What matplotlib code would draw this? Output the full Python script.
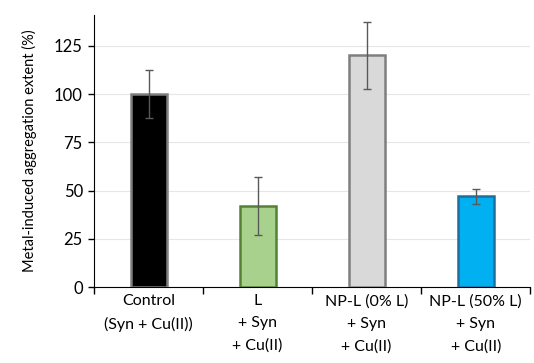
import matplotlib.pyplot as plt
import numpy as np

plt.rcParams['font.family'] = ['Lato', 'DejaVu Sans']

labels = ['Control\n(Syn + Cu(II))', 'L\n+ Syn\n+ Cu(II)',
          'NP-L (0% L)\n+ Syn\n+ Cu(II)', 'NP-L (50% L)\n+ Syn\n+ Cu(II)']
values = [100, 42, 120, 47]
errors = [12.5, 15, 17.5, 4]
faces = ['#000000', '#A9D18E', '#D9D9D9', '#00B0F0']
edges = ['#7F7F7F', '#548235', '#7F7F7F', '#1F6E9E']

fig = plt.figure(figsize=(5.34, 3.63), dpi=100)
ax = fig.add_axes([0.176, 0.209, 0.817, 0.75])

x = np.arange(len(values))
ax.bar(x, values, width=0.33, color=faces, edgecolor=edges, linewidth=1.8, zorder=3)
ax.errorbar(x, values, yerr=errors, fmt='none', ecolor='#595959',
            elinewidth=1, capsize=3, capthick=1, zorder=4)

ax.set_xlim(-0.5, len(values) - 0.5)
ax.set_ylim(0, 141)
ax.set_yticks([0, 25, 50, 75, 100, 125])
ax.yaxis.grid(True, color='#E6E6E6', linewidth=0.8, zorder=0)

ax.set_xticks(x)
ax.set_xticklabels(labels, fontsize=11.5, linespacing=1.75)
ax.tick_params(axis='x', which='major', length=0, pad=5)
ax.set_xticks(np.arange(-0.5, len(values)), minor=True)
ax.tick_params(axis='x', which='minor', length=5, width=1, direction='out')
ax.tick_params(axis='y', labelsize=12, length=4, width=1, pad=4)

for s in ['top', 'right']:
    ax.spines[s].set_visible(False)

ax.set_ylabel('Metal-induced aggregation extent (%)', fontsize=10.5, labelpad=12)

fig.savefig('out.png', dpi=100)
